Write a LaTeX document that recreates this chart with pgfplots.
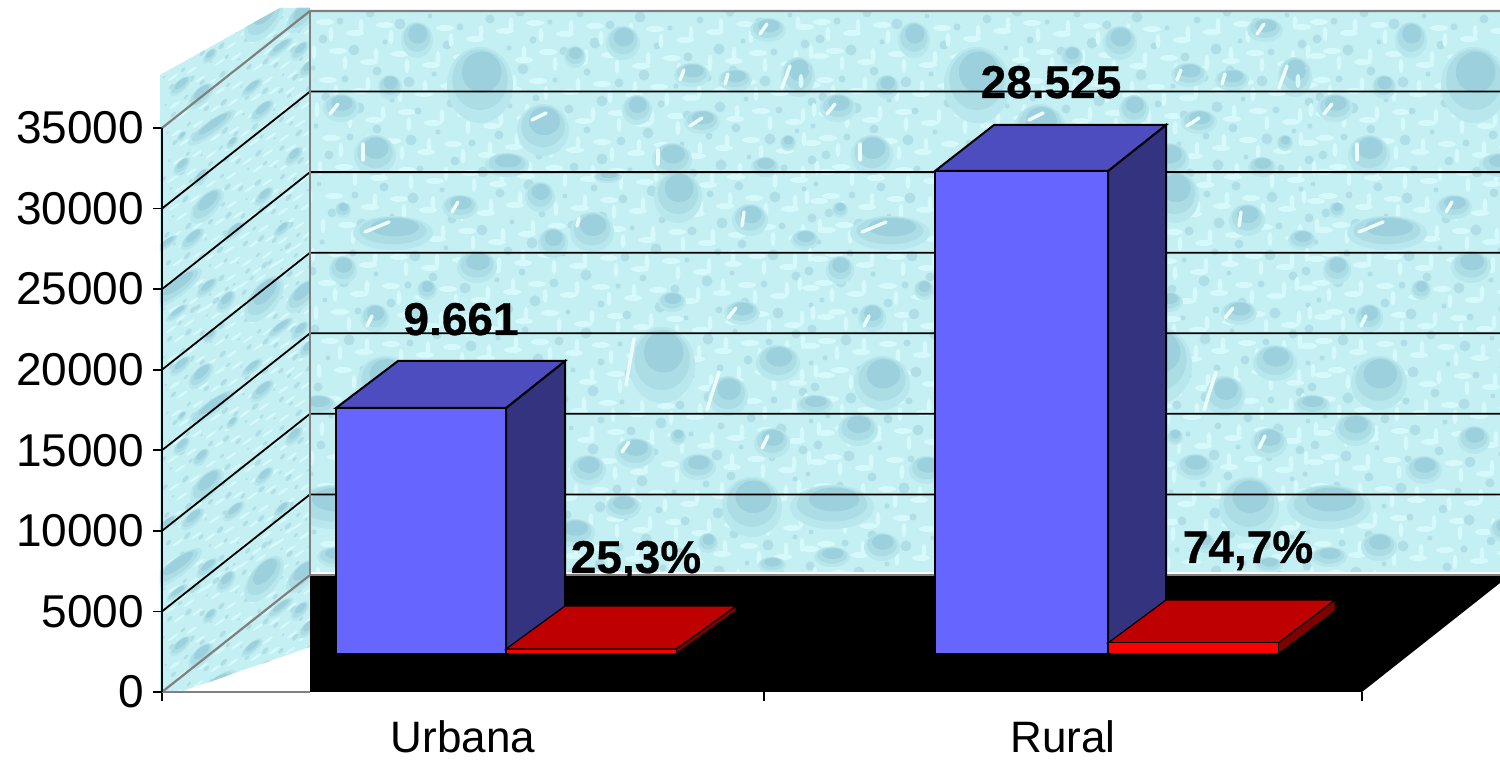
\documentclass[border=0pt]{standalone}
\usepackage{fontspec}
\setmainfont{Liberation Sans}
\usepackage{pgfplots}
\pgfplotsset{compat=1.18}
\definecolor{wbase}{HTML}{C4EFF3}
\definecolor{wlight}{HTML}{D6FAFC}
\definecolor{wsoft}{HTML}{B8E7ED}
\definecolor{wmid}{HTML}{ACDDE5}
\definecolor{wdark}{HTML}{9BD0DC}
\definecolor{wdot}{HTML}{B0DEE6}
\definecolor{wgray}{HTML}{808080}
\definecolor{bfront}{HTML}{6666FF}
\definecolor{btop}{HTML}{4D4DBF}
\definecolor{bside}{HTML}{333380}
\definecolor{rfront}{HTML}{FF0000}
\definecolor{rtop}{HTML}{BF0000}
\definecolor{rside}{HTML}{800000}
\tikzset{hlstyle/.style={wlight!45!white,line width=1.7pt,line cap=round}}
\newcommand\drop[4]{%
  \fill[wsoft] (#1,#2) ellipse [x radius=#3, y radius=#4];
  \fill[wmid] (#1,#2-0.14*#4) ellipse [x radius=#3*0.84, y radius=#4*0.8];
  \fill[wdark] (#1+0.05*#3,#2-0.34*#4) ellipse [x radius=#3*0.6, y radius=#4*0.54];
}
\newcommand\hl[4]{% highlight streak: x y dx dy
  \draw[hlstyle] (#1,#2) -- ++(#3,#4);
}
\newcommand\lattice[2]{%
  \foreach \i in {0,...,#1}{\foreach \j in {0,...,19}{
    \pgfmathsetmacro\xx{310+30*\i+mod(\j*13,23)+mod(\i*\j,7)}
    \pgfmathsetmacro\yy{10+29*\j+mod(\i*11,19)}
    \pgfmathsetmacro\rr{2.5+mod(\i+2*\j,4)}
    \fill[wdot] (\xx,\yy) circle [radius=\rr];
    \fill[wlight] (\xx+15,\yy+12) ellipse [x radius=9, y radius=3];
    #2
  }}%
}
\newcommand\dropsA{%
  \drop{417}{40}{16}{18}
  \drop{480}{85}{33}{38}
  \drop{390}{87}{12}{12}
  \drop{341}{108}{18}{14}\hl{330}{114}{8}{-10}
  \drop{543}{130}{26}{26}\hl{532}{120}{14}{-7}
  \drop{375}{155}{21}{20}\hl{363}{160}{0}{-16}
  \drop{507}{165}{22}{12}
  \drop{393}{233}{40}{17}\hl{365}{232}{24}{-10}
  \drop{460}{207}{18}{12}\hl{452}{212}{6}{-10}
  \drop{540}{197}{15}{15}
  \drop{343}{210}{8}{8}
  \drop{343}{270}{14}{14}
  \drop{477}{267}{20}{16}
  \drop{427}{290}{10}{10}
  \drop{375}{318}{14}{14}\hl{367}{326}{5}{-10}
  \drop{553}{243}{15}{15}
  \drop{335}{507}{42}{22}
  \drop{385}{383}{28}{27}
  \drop{318}{405}{18}{10}
  \drop{361}{430}{20}{16}
  \drop{335}{557}{18}{10}
  \drop{385}{547}{18}{14}
  \drop{430}{470}{18}{14}
  \drop{480}{440}{16}{14}
  \drop{530}{400}{15}{15}
  \drop{510}{530}{14}{12}
}
\newcommand\dropsB{%
  \drop{623}{43}{17}{17}
  \drop{575}{57}{11}{11}
  \drop{768}{30}{18}{12}\hl{760}{34}{7}{-10}
  \drop{692}{75}{18}{12}\hl{680}{80}{4}{-10}
  \drop{735}{80}{17}{11}\hl{725}{84}{3}{-10}
  \drop{798}{77}{17}{20}\hl{782}{88}{8}{-22}
  \drop{637}{110}{15}{15}
  \drop{702}{122}{18}{12}\hl{690}{126}{12}{-8}
  \drop{672}{160}{20}{17}\hl{658}{164}{0}{-14}
  \drop{678}{197}{24}{26}
  \drop{788}{143}{8}{8}
  \drop{608}{177}{14}{6}
  \drop{765}{167}{14}{10}
  \drop{592}{232}{22}{20}\hl{577}{226}{2}{-8}
  \drop{750}{220}{18}{16}\hl{742}{226}{2}{-14}
  \drop{805}{240}{14}{10}
  \drop{662}{365}{33}{38}
  \hl{626}{385}{8}{-46}
  \drop{728}{396}{20}{20}\hl{707}{410}{12}{-38}
  \drop{778}{363}{22}{18}
  \drop{742}{313}{18}{12}\hl{728}{318}{8}{-10}
  \drop{672}{302}{14}{10}
  \drop{635}{453}{20}{15}\hl{622}{452}{7}{-10}
  \drop{588}{470}{18}{15}
  \drop{698}{467}{18}{13}
  \drop{772}{443}{18}{15}\hl{762}{448}{6}{-12}
  \drop{678}{437}{8}{8}
  \drop{752}{507}{30}{30}
  \drop{623}{507}{18}{12}
  \drop{575}{533}{20}{14}
  \drop{708}{543}{10}{10}
  \drop{772}{565}{14}{8}
}
\newcommand\vstreak{\fill[wlight] (\xx-9,\yy+13) ellipse [x radius=2.5, y radius=7];}
\begin{document}
\begin{tikzpicture}
% decorative water-drop texture of the walls (pixel frame of the reference)
\begin{scope}[shift={(-81pt,346pt)},x=.5pt,y=-.5pt]
  \begin{scope}
    \clip (310,11) rectangle (1500,571.5);
    \fill[wbase] (310,11) rectangle (1500,572);
    \lattice{16}{\vstreak}\dropsA\dropsB
    \begin{scope}[shift={(497,0)}]\lattice{16}{\vstreak}\dropsA\dropsB\end{scope}
    \begin{scope}[shift={(994,0)}]\lattice{7}{\vstreak}\dropsA\end{scope}
  \end{scope}
  \begin{scope}
    \clip (160,75) -- (280,8) -- (310,8) -- (310,647) -- (180,692) -- (160,692) -- cycle;
    \fill[wbase] (160,0) rectangle (310,700);
    \tikzset{hlstyle/.style={draw=none}}
    \foreach \o in {50,330,610}{
      \begin{scope}[shift={(162,\o)},x={(0.3pt,0.2pt)},y={(0pt,-0.25pt)},shift={(-310,-11)}]\lattice{8}{}\dropsA\end{scope}
    }
  \end{scope}
\end{scope}
\begin{axis}[
  name=a, at={(0,0)}, anchor=south west,
  scale only axis, width=669pt, height=346pt,
  xmin=162, xmax=1500, ymin=0, ymax=42943,
  axis x line=bottom, axis y line=left,
  axis line style={draw=none,-},
  clip=false,
  scaled y ticks=false,
  tick style={black,line width=0.8pt},
  tick align=outside,
  major tick length=4.5pt,
  ytick={0,5000,10000,15000,20000,25000,30000,35000},
  /pgf/number format/1000 sep={},
  /pgf/number format/assume math mode=true,
  y tick label style={font=\fontsize{23}{27}\selectfont, xshift=-1pt},
  xtick={162,764,1362},
  xticklabels={,,},
  extra x ticks={463,1063},
  extra x tick labels={Urbana,Rural},
  extra x tick style={major tick length=0pt,
    tick label style={font=\fontsize{22}{26}\selectfont, yshift=-11pt}},
]
% floor
\addplot[fill=black,draw=none] coordinates {(310,7261)(1500,7261)(1500,6764)(1362,0)(310,0)} --cycle;
% wall gridlines
\addplot[black,line width=.9pt] coordinates {(162,5000)(310,12261)(1500,12261)};
\addplot[black,line width=.9pt] coordinates {(162,10000)(310,17261)(1500,17261)};
\addplot[black,line width=.9pt] coordinates {(162,15000)(310,22261)(1500,22261)};
\addplot[black,line width=.9pt] coordinates {(162,20000)(310,27261)(1500,27261)};
\addplot[black,line width=.9pt] coordinates {(162,25000)(310,32261)(1500,32261)};
\addplot[black,line width=.9pt] coordinates {(162,30000)(310,37261)(1500,37261)};
% wall outline
\addplot[wgray,line width=1.1pt] coordinates {(162,35000)(310,42261)(1500,42261)};
\addplot[wgray,line width=1.1pt] coordinates {(310,42261)(310,7261)(1500,7261)};
\addplot[wgray,line width=1.1pt] coordinates {(162,0)(310,7261)};
\addplot[wgray,line width=1.1pt] coordinates {(162,0)(310,0)};
\addplot[black,line width=1pt] coordinates {(162,0)(162,35000)};
% Urbana: blue bar
\addplot[fill=bside,draw=black,line width=1pt] coordinates {(506,2358)(565,5275)(565,20541)(506,17624)} --cycle;
\addplot[fill=btop,draw=black,line width=1pt] coordinates {(336,17624)(506,17624)(565,20541)(398,20541)} --cycle;
\addplot[fill=bfront,draw=black,line width=1pt] coordinates {(336,2358)(506,2358)(506,17624)(336,17624)} --cycle;
% Urbana: red bar
\addplot[fill=rside,draw=black,line width=.5pt] coordinates {(676,2358)(736,5027)(736,5337)(676,2668)} --cycle;
\addplot[fill=rtop,draw=black,line width=.6pt] coordinates {(506,2668)(676,2668)(736,5337)(565,5337)} --cycle;
\addplot[fill=rfront,draw=black,line width=.5pt] coordinates {(506,2358)(676,2358)(676,2668)(506,2668)} --cycle;
% Rural: blue bar
\addplot[fill=bside,draw=black,line width=1pt] coordinates {(1108,2358)(1166,5275)(1166,35186)(1108,32331)} --cycle;
\addplot[fill=btop,draw=black,line width=1pt] coordinates {(935,32331)(1108,32331)(1166,35186)(994,35186)} --cycle;
\addplot[fill=bfront,draw=black,line width=1pt] coordinates {(935,2358)(1108,2358)(1108,32331)(935,32331)} --cycle;
% Rural: red bar
\addplot[fill=rside,draw=black,line width=.5pt] coordinates {(1278,2358)(1335,5027)(1335,5709)(1278,3041)} --cycle;
\addplot[fill=rtop,draw=black,line width=.6pt] coordinates {(1108,3041)(1278,3041)(1335,5709)(1166,5709)} --cycle;
\addplot[fill=rfront,draw=black,line width=.5pt] coordinates {(1108,2358)(1278,2358)(1278,3041)(1108,3041)} --cycle;
% data labels
\tikzset{lab/.style={anchor=base,inner sep=0pt,font=\fontsize{23}{27}\selectfont\bfseries\addfontfeature{FakeBold=0.6}}}
\node[lab] at (axis cs:461,22154) {9.661};
\node[lab] at (axis cs:1051,36862) {28.525};
\node[lab] at (axis cs:636,7385) {25,3\%};
\node[lab] at (axis cs:1248,8005) {74,7\%};
\end{axis}
\pgfresetboundingbox
\path[use as bounding box] (-81pt,-34pt) rectangle (669pt,346pt);
\end{tikzpicture}
\end{document}
